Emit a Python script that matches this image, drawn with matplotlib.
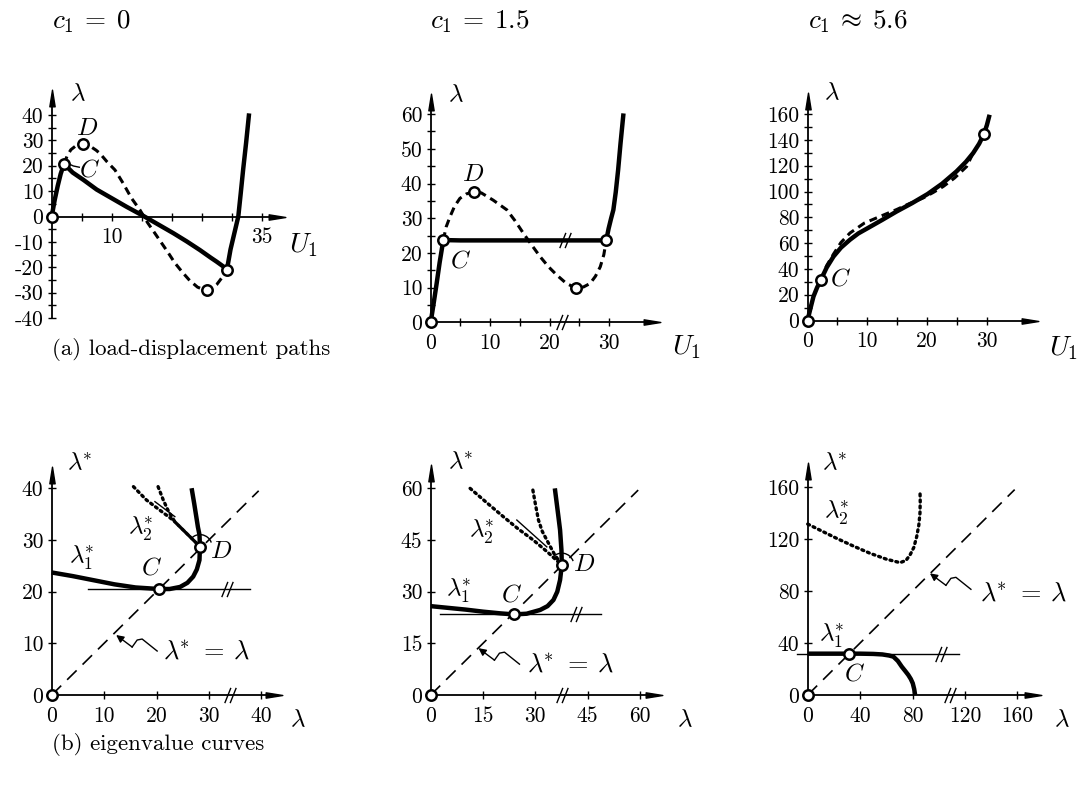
import matplotlib.pyplot as plt
from matplotlib.path import Path
from matplotlib.patches import Arc

plt.rcParams['mathtext.fontset'] = 'cm'
plt.rcParams['font.family'] = 'serif'
plt.rcParams['font.serif'] = ['cmr10', 'DejaVu Serif']
plt.rcParams['axes.unicode_minus'] = False

W, H = 1083, 788

# ---------------- (a) load-displacement paths ----------------
# c1 = 0
a1_solid_u = [0, 0.5, 1.0, 1.5, 2.05, 3.5, 5.3, 7.5, 10, 12.5, 15.3, 17.8, 20.3, 22.5,
              24.7, 26.5, 27.5, 28.5, 29.2, 29.8, 30.3, 30.7, 31.1, 31.5, 31.9, 32.4, 32.9]
a1_solid_l = [0, 6.5, 12, 16.8, 20.7, 17.3, 14.4, 10.6, 7.2, 3.8, 0.2, -3.2, -6.6, -9.8,
              -13.2, -16.2, -17.8, -19.5, -21, -13, -8, -4, 0, 9, 18.3, 29, 40.6]
a1_dash_u = [2.05, 2.6, 3.2, 3.9, 4.6, 5.2, 6.0, 6.7, 7.4, 8.05, 9.2, 10.55, 11.9, 13.3, 14.7,
             16.0, 17.2, 18.3, 19.4, 20.5, 21.8, 23.0, 24.3, 25.2, 25.8, 26.6, 27.5, 28.3, 29.2]
a1_dash_l = [20.7, 24.0, 26.3, 27.6, 28.3, 28.5, 28.1, 27.2, 26.1, 24.8, 21.6, 18.3, 13.1, 7.2, 2.6,
             -2.5, -6.6, -10.4, -14.2, -18.2, -22.0, -25.2, -27.8, -28.7, -28.9, -28.5, -26.8, -24.3, -21.0]
a1_pts_u = [0, 2.05, 5.2, 25.8, 29.2]
a1_pts_l = [0, 20.7, 28.5, -28.9, -21.0]

# c1 = 1.5
a2_solid_u = [0, 0.5, 1.0, 1.5, 2.12, 5, 10, 15, 20, 25, 29.5, 29.9, 30.3, 30.7, 31.1, 31.5, 31.9, 32.4]
a2_solid_l = [0, 5.5, 11.2, 17.2, 23.7, 23.6, 23.6, 23.6, 23.6, 23.6, 23.6, 27, 29.8, 32.4, 37.5, 43.9, 51.5, 60.2]
a2_dash_u = [2.12, 2.6, 3.24, 4.0, 4.9, 6.0, 7.2, 8.5, 10.5, 12.8, 14.2, 15.6, 17.0, 18.4, 19.8,
             21.2, 22.8, 24.5, 25.7, 26.8, 27.7, 28.5, 29.1, 29.5]
a2_dash_l = [23.7, 27.5, 30.4, 33.4, 35.7, 37.0, 37.6, 37.3, 35.2, 32.4, 29.2, 25.6, 22.2, 18.9, 16.0,
             13.6, 11.2, 9.8, 10.2, 11.2, 13.3, 16.0, 19.5, 23.6]
a2_pts_u = [0, 2.12, 7.2, 24.5, 29.5]
a2_pts_l = [0, 23.7, 37.6, 9.8, 23.6]

# c1 ~ 5.6
a3_solid_u = [0, 0.5, 1.0, 1.6, 2.23, 3.2, 4.35, 5.6, 7.1, 8.5, 10.07, 12.5, 14.9, 17.5, 20.07,
              22.5, 24.9, 26.5, 27.7, 28.7, 29.5, 30.0, 30.45]
a3_solid_l = [0, 9.5, 18.6, 25.5, 31.5, 41, 49.6, 56.5, 62.6, 67.5, 71.6, 78, 84.5, 91, 98,
              106, 115.5, 123, 129.8, 137, 144.5, 151.5, 159.5]
a3_dash_u = [2.23, 3.2, 4.35, 5.6, 7.1, 9.5, 12.1, 14.9, 17.0, 19.3, 21.0, 22.7, 24.6, 26.6, 27.7]
a3_dash_l = [31.5, 42.5, 51.5, 60.5, 67.8, 75.5, 80.6, 86.0, 90.5, 94.9, 99.2, 103.9, 110.5, 119.3, 129.8]
a3_pts_u = [0, 2.23, 29.5]
a3_pts_l = [0, 31.5, 144.5]

# ---------------- (b) eigenvalue curves ----------------
b1_l1_x = [0, 4, 8, 12, 16, 20.5, 22.5, 24.5, 25.9, 27.0, 27.7, 28.2, 28.3, 28.2, 27.9, 27.7, 27.2, 26.7]
b1_l1_y = [23.7, 23.0, 22.2, 21.4, 20.8, 20.5, 20.5, 20.9, 21.7, 22.9, 24.3, 26.1, 28.7, 31.0, 32.5, 33.8, 37.0, 40.0]
b1_l2a_x = [15.6, 18.1, 20.7, 23.2, 25.8, 28.3]
b1_l2a_y = [40.3, 37.7, 35.7, 33.8, 31.2, 28.7]
b1_l2b_x = [20.3, 21.3, 22.3, 23.5, 25.4, 27.3, 28.3]
b1_l2b_y = [40.3, 37.7, 35.5, 33.5, 31.6, 29.7, 28.7]
b1_tan_x = [19.7, 23.5]
b1_tan_y = [37.4, 34.5]
b1_crit = 20.5
b1_pts_x = [0, 20.5, 28.3]
b1_pts_y = [0, 20.5, 28.7]

b2_l1_x = [0, 5, 10, 15, 20, 23.9, 27.5, 31.4, 33.5, 35.2, 36.3, 37.1, 37.6, 37.5, 37.1, 36.6, 36.1, 35.6]
b2_l1_y = [25.8, 25.3, 24.8, 24.2, 23.7, 23.4, 23.6, 24.7, 25.8, 27.6, 30.0, 33.4, 37.7, 42.0, 47.9, 52.0, 56.0, 60.0]
b2_l2a_x = [11.3, 16, 20.8, 25, 29.4, 33.5, 37.6]
b2_l2a_y = [60, 55.9, 51.8, 48.3, 45.0, 41.5, 37.7]
b2_l2b_x = [29.3, 30.1, 30.9, 32.0, 33.3, 35.4, 37.6]
b2_l2b_y = [59.5, 55.0, 50.8, 47.5, 45.0, 41.0, 37.7]
b2_tan_x = [24.7, 33.3]
b2_tan_y = [50.8, 43.0]
b2_crit = 23.4
b2_pts_x = [0, 23.9, 37.6]
b2_pts_y = [0, 23.4, 37.7]

b3_l1_x = [0, 20, 40, 50, 57, 62, 65.4, 68.8, 71.8, 74.5, 76.8, 78.7, 80.2, 81.3, 82]
b3_l1_y = [31.8, 31.8, 31.8, 31.6, 31.2, 30.4, 29.5, 26.2, 21.8, 18.4, 15.4, 12.3, 9.0, 4.5, 0]
b3_l2_x = [0, 10, 22.1, 35, 47.6, 60, 70.5, 75, 78.1, 81, 83.2, 84.8, 85.7, 85.9, 85.7]
b3_l2_y = [131.5, 126.5, 120.5, 114.5, 109, 104.5, 101.8, 103.5, 107.7, 113.5, 121.8, 130.5, 139.8, 149, 157.7]
b3_crit = 31.8
b3_pts_x = [0, 31.8]
b3_pts_y = [0, 31.8]

fig = plt.figure(figsize=(W / 100, H / 100), dpi=100)

arrow_x = Path([(-1, 0.32), (1, 0), (-1, -0.32), (-1, 0.32)], closed=True)
arrow_y = Path([(0.32, -1), (0, 1), (-0.32, -1), (0.32, -1)], closed=True)
brk_mark = Path([(-0.75, -1), (0.05, 1), (-0.05, -1), (0.75, 1)],
                [Path.MOVETO, Path.LINETO, Path.MOVETO, Path.LINETO])

LSTAR = r'$\lambda^{\!\!*}$'


def panel(ox, oy, sx, sy, xlim, ylim):
    left = (ox + xlim[0] * sx) / W
    right = (ox + xlim[1] * sx) / W
    top = 1 - (oy - ylim[1] * sy) / H
    bottom = 1 - (oy - ylim[0] * sy) / H
    ax = fig.add_axes([left, bottom, right - left, top - bottom])
    ax.set_xlim(xlim)
    ax.set_ylim(ylim)
    ax.patch.set_alpha(0)
    ax.spines['top'].set_visible(False)
    ax.spines['right'].set_visible(False)
    ax.spines['left'].set_position(('data', 0))
    ax.spines['bottom'].set_position(('data', 0))
    ax.spines['left'].set_linewidth(1.3)
    ax.spines['bottom'].set_linewidth(1.3)
    ax.tick_params(direction='inout', length=6, width=1.0, labelsize=15.5)
    ax.tick_params(axis='x', pad=5)
    ax.tick_params(axis='y', pad=3)
    ax.plot(1, 0, marker=arrow_x, ms=12, color='k', transform=ax.get_yaxis_transform(), clip_on=False)
    ax.plot(0, 1, marker=arrow_y, ms=12, color='k', transform=ax.get_xaxis_transform(), clip_on=False)
    ax.sx, ax.sy = sx, sy
    return ax


def circles(ax, x, y):
    ax.plot(x, y, 'o', ms=7.5, mfc='white', mec='k', mew=1.8, zorder=6, clip_on=False)


def brk(ax, x, y):
    ax.plot([x], [y], marker=brk_mark, ms=11, color='k', mew=1.0, ls='none', zorder=5, clip_on=False)


def ticks(ax, axis, pos, shown):
    labels = [str(p) if p in shown else '' for p in pos]
    if axis == 'x':
        ax.set_xticks(pos, labels)
    else:
        ax.set_yticks(pos, labels)


def leader(ax, tip, label_x, label_y, fs=19):
    off = [(0, 0), (16, -12), (21, -5), (26, -4), (41, -16)]
    xs = [tip[0] + dx / ax.sx for dx, dy in off]
    ys = [tip[1] + dy / ax.sy for dx, dy in off]
    ax.plot(xs[1:], ys[1:], color='k', lw=1.0, clip_on=False)
    ax.annotate('', xy=(xs[0], ys[0]), xytext=(xs[1], ys[1]),
                arrowprops=dict(arrowstyle='-|>', lw=1.0, color='k', mutation_scale=11,
                                shrinkA=0, shrinkB=0))
    ax.text(label_x, label_y, r'$\lambda^{\!\!*} \:=\: \lambda$', fontsize=fs, ha='left', va='center')


def angle_arc(ax, x, y):
    r = 12
    ax.add_patch(Arc((x, y), 2 * r / ax.sx, 2 * r / ax.sy, theta1=20, theta2=140,
                     lw=1.0, color='k', clip_on=False))


thick = dict(color='k', lw=3.2, solid_capstyle='butt', clip_on=False)
dashed = dict(color='k', lw=2.2, dashes=(2.6, 1.7), clip_on=False)
dotted = dict(color='k', lw=2.4, dashes=(0.6, 1.2), dash_capstyle='round', clip_on=False)
diag = dict(color='k', lw=1.2, dashes=(8, 5), clip_on=False)
thin = dict(color='k', lw=1.0, clip_on=False)
lab = dict(fontsize=18, ha='center', va='center')
axlab = dict(fontsize=18, ha='center', va='center')
ulab = dict(fontsize=20, ha='center', va='center')

# ---------- panel a1 ----------
ax = panel(51.7, 216.5, 6.0, 2.54, (0, 37.5), (-40, 46.5))
ticks(ax, 'x', list(range(5, 36, 5)), [10, 35])
ticks(ax, 'y', list(range(-40, 41, 5)), list(range(-40, 41, 10)))
ax.plot(a1_dash_u, a1_dash_l, **dashed)
ax.plot(a1_solid_u, a1_solid_l, **thick)
circles(ax, a1_pts_u, a1_pts_l)
ax.plot([2.7, 3.6, 4.6], [20.9, 19.9, 19.4], **thin)
ax.text(6.3, 18.0, '$C$', **lab)
ax.text(5.9, 34.5, '$D$', **lab)
ax.text(4.3, 48.3, r'$\lambda$', **axlab)
ax.text(41.9, -11.2, '$U_1$', **ulab)

# ---------- panel a2 ----------
ax = panel(430.7, 322.3, 5.95, 3.47, (0, 37.2), (0, 63.5))
ticks(ax, 'x', list(range(0, 31, 5)), [0, 10, 20, 30])
ticks(ax, 'y', list(range(0, 61, 5)), list(range(0, 61, 10)))
ax.plot(a2_dash_u, a2_dash_l, **dashed)
ax.plot(a2_solid_u, a2_solid_l, **thick)
circles(ax, a2_pts_u, a2_pts_l)
brk(ax, 22.6, 23.6)
brk(ax, 22.0, 0)
ax.text(5.0, 17.5, '$C$', **lab)
ax.text(7.2, 42.5, '$D$', **lab)
ax.text(4.3, 65.5, r'$\lambda$', **axlab)
ax.text(43.0, -7.1, '$U_1$', **ulab)

# ---------- panel a3 ----------
ax = panel(807.5, 320.5, 5.98, 1.29, (0, 37.2), (0, 170))
ticks(ax, 'x', list(range(0, 31, 5)), [0, 10, 20, 30])
ticks(ax, 'y', list(range(0, 161, 10)), list(range(0, 161, 20)))
ax.plot(a3_dash_u, a3_dash_l, **dashed)
ax.plot(a3_solid_u, a3_solid_l, **thick)
circles(ax, a3_pts_u, a3_pts_l)
ax.text(5.6, 32.0, '$C$', **lab)
ax.text(4.0, 176, r'$\lambda$', **axlab)
ax.text(42.8, -21.3, '$U_1$', **ulab)

# ---------- panel b1 ----------
ax = panel(51.7, 695, 5.24, 5.17, (0, 42.5), (0, 42.5))
ticks(ax, 'x', [0, 10, 20, 30, 40], [0, 10, 20, 30, 40])
ticks(ax, 'y', [0, 10, 20, 30, 40], [0, 10, 20, 30, 40])
ax.plot([0, 39.5], [0, 39.5], **diag)
ax.plot([7, 37.8], [b1_crit, b1_crit], **thin)
brk(ax, 33.4, b1_crit)
brk(ax, 34.0, 0)
ax.plot(b1_tan_x, b1_tan_y, **thin)
ax.plot(b1_l2a_x, b1_l2a_y, **dotted)
ax.plot(b1_l2b_x, b1_l2b_y, **dotted)
ax.plot(b1_l1_x, b1_l1_y, **thick)
angle_arc(ax, 28.3, 28.7)
circles(ax, b1_pts_x, b1_pts_y)
ax.text(5.7, 26.6, r'$\lambda_1^{\!\!*}$', **axlab)
ax.text(16.9, 32.2, r'$\lambda_2^{\!\!*}$', **axlab)
ax.text(19.0, 24.4, '$C$', **lab)
ax.text(32.3, 27.7, '$D$', **lab)
leader(ax, (12.3, 11.6), 21.3, 8.4)
ax.text(5.3, 44.8, LSTAR, **axlab)
ax.text(47.0, -4.8, r'$\lambda$', **axlab)

# ---------- panel b2 ----------
ax = panel(430.7, 695, 3.487, 3.444, (0, 64.0), (0, 64.5))
ticks(ax, 'x', [0, 15, 30, 45, 60], [0, 15, 30, 45, 60])
ticks(ax, 'y', [0, 15, 30, 45, 60], [0, 15, 30, 45, 60])
ax.plot([0, 59.5], [0, 59.5], **diag)
ax.plot([2.7, 48.7], [b2_crit, b2_crit], **thin)
brk(ax, 41.7, b2_crit)
brk(ax, 37.6, 0)
ax.plot(b2_tan_x, b2_tan_y, **thin)
ax.plot(b2_l2a_x, b2_l2a_y, **dotted)
ax.plot(b2_l2b_x, b2_l2b_y, **dotted)
ax.plot(b2_l1_x, b2_l1_y, **thick)
angle_arc(ax, 37.6, 37.7)
circles(ax, b2_pts_x, b2_pts_y)
ax.text(7.9, 30.2, r'$\lambda_1^{\!\!*}$', **axlab)
ax.text(14.6, 47.4, r'$\lambda_2^{\!\!*}$', **axlab)
ax.text(23.2, 29.0, '$C$', **lab)
ax.text(44.0, 37.7, '$D$', **lab)
leader(ax, (13.7, 13.6), 27.5, 8.7)
ax.text(8.4, 67.3, LSTAR, **axlab)
ax.text(73.0, -7.3, r'$\lambda$', **axlab)

# ---------- panel b3 ----------
ax = panel(807.7, 695, 1.31, 1.30, (0, 172), (0, 172))
ticks(ax, 'x', [0, 40, 80, 120, 160], [0, 40, 80, 120, 160])
ticks(ax, 'y', [0, 40, 80, 120, 160], [0, 40, 80, 120, 160])
ax.plot([0, 158], [0, 158], **diag)
ax.plot([-8.4, 115.7], [b3_crit, b3_crit], **thin)
brk(ax, 102, b3_crit)
brk(ax, 108.6, 0)
ax.plot(b3_l2_x, b3_l2_y, **dotted)
ax.plot(b3_l1_x, b3_l1_y, **thick)
circles(ax, b3_pts_x, b3_pts_y)
ax.text(18.3, 45.5, r'$\lambda_1^{\!\!*}$', **axlab)
ax.text(22.0, 140.5, r'$\lambda_2^{\!\!*}$', **axlab)
ax.text(36.0, 15.5, '$C$', **lab)
leader(ax, (93.3, 93.6), 131.5, 78.2)
ax.text(20.8, 178, LSTAR, **axlab)
ax.text(194, -19.2, r'$\lambda$', **axlab)

# ---------- titles and captions ----------
fig.text(52 / W, 1 - 22 / H, r'$c_1 \:=\: 0$', fontsize=19.5, ha='left', va='center')
fig.text(430 / W, 1 - 22 / H, r'$c_1 \:=\: 1.5$', fontsize=19.5, ha='left', va='center')
fig.text(808 / W, 1 - 22 / H, r'$c_1 \:\approx\: 5.6$', fontsize=19.5, ha='left', va='center')
fig.text(52 / W, 1 - 350 / H, '(a) load-displacement paths', fontsize=16.5, ha='left', va='center')
fig.text(52 / W, 1 - 745 / H, '(b) eigenvalue curves', fontsize=16.5, ha='left', va='center')

fig.savefig('out.png', dpi=100)
